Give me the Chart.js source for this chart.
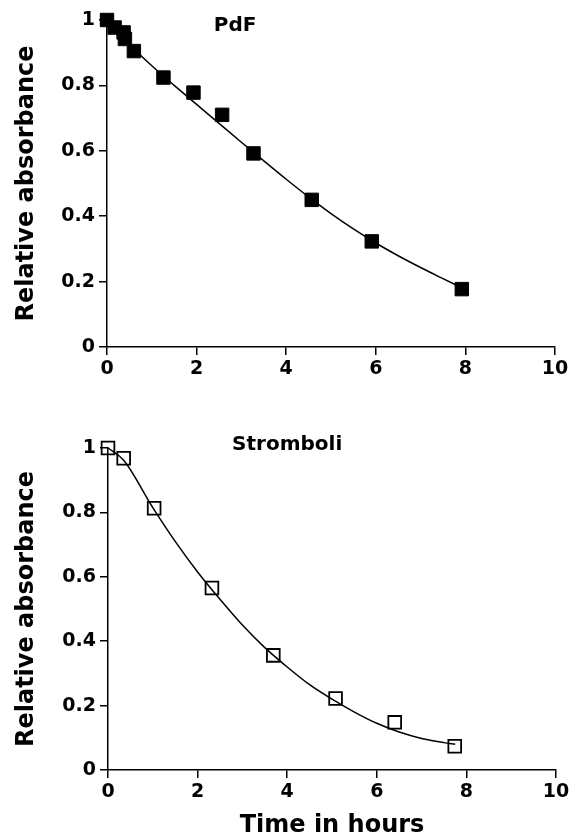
<!DOCTYPE html>
<html><head><meta charset="utf-8">
<script src="https://cdn.jsdelivr.net/npm/chart.js@4.4.1/dist/chart.umd.min.js"></script>
<style>
html,body{margin:0;padding:0;background:#fff;}
#wrap{position:relative;width:579px;height:837px;background:#fff;}
canvas{display:block;position:absolute;left:0;}
#c1{top:0;} #c2{top:400px;}
</style></head><body>
<div id="wrap"><canvas id="c1" width="579" height="400"></canvas><canvas id="c2" width="579" height="437"></canvas></div>
<script>
// ---- data ----
const xTicks = [0, 2, 4, 6, 8, 10];
const yTicks = [0, 0.2, 0.4, 0.6, 0.8, 1];
const pdfTitle = 'PdF';
const stromTitle = 'Stromboli';
const yAxisTitle = 'Relative absorbance';
const xAxisTitle = 'Time in hours';

const pdfX = [0, 0.17, 0.37, 0.4, 0.6, 1.26, 1.93, 2.57, 3.27, 4.57, 5.91, 7.92];
const pdfY = [1.0, 0.977, 0.962, 0.942, 0.905, 0.824, 0.778, 0.71, 0.592, 0.45, 0.323, 0.177];
const pdfFitX = [0, 0.5, 1, 1.5, 2, 2.5, 3, 3.5, 4, 4.5, 5, 5.5, 6, 6.5, 7, 7.5, 7.92];
const pdfFitY = [1.0, 0.925, 0.86, 0.80, 0.742, 0.684, 0.626, 0.569, 0.513, 0.459, 0.408, 0.361, 0.318, 0.279, 0.243, 0.209, 0.181];

const strX = [0, 0.35, 1.03, 2.32, 3.69, 5.08, 6.40, 7.74];
const strY = [1.0, 0.968, 0.813, 0.565, 0.356, 0.222, 0.148, 0.074];
const strFitX = [0, 0.35, 1, 1.5, 2, 2.5, 3, 3.5, 4, 4.5, 5, 5.5, 6, 6.5, 7, 7.5, 7.75];
const strFitY = [1.0, 0.962, 0.815, 0.71, 0.615, 0.53, 0.45, 0.38, 0.32, 0.265, 0.22, 0.18, 0.145, 0.118, 0.098, 0.085, 0.08];

// ---- helpers ----
const FONT = '"DejaVu Sans", sans-serif';
const pts = (xs, ys) => xs.map((x, i) => ({x, y: ys[i]}));

const panelTitle = {
  id: 'panelTitle',
  afterDraw(chart, args, opts) {
    const {ctx, scales: {x, y}} = chart;
    ctx.save();
    ctx.font = 'bold 20px ' + FONT;
    ctx.fillStyle = '#000';
    ctx.textAlign = 'center';
    ctx.textBaseline = 'middle';
    ctx.fillText(opts.text, x.getPixelForValue(opts.x), y.getPixelForValue(opts.y));
    ctx.restore();
  }
};

function makeChart(id, cfg) {
  const axisGrid = {display: true, drawOnChartArea: false, drawTicks: true, tickLength: 8,
                    tickWidth: 1.5, tickColor: '#000', color: '#000', lineWidth: 1.5};
  const border = {display: true, color: '#000', width: 1.5};
  return new Chart(document.getElementById(id), {
    type: 'line',
    data: {
      datasets: [
        {data: pts(cfg.fitX, cfg.fitY), borderColor: '#000', borderWidth: 1.5, pointRadius: 0,
         cubicInterpolationMode: 'monotone', fill: false, clip: false, order: 2},
        {data: pts(cfg.xs, cfg.ys), showLine: false, pointStyle: 'rect', pointRadius: cfg.r,
         pointBackgroundColor: cfg.filled ? '#000' : 'rgba(0,0,0,0)', pointBorderColor: '#000',
         pointBorderWidth: cfg.filled ? 1 : 1.8, clip: false, order: 1}
      ]
    },
    options: {
      responsive: false, animation: false, devicePixelRatio: 1,
      layout: {padding: {top: cfg.padTop, right: cfg.padRight, left: 0, bottom: 0}},
      plugins: {legend: {display: false}, tooltip: {enabled: false},
                panelTitle: {text: cfg.title, x: cfg.titleX, y: cfg.titleY}},
      scales: {
        x: {type: 'linear', position: 'bottom', min: 0, max: 10,
            afterBuildTicks: s => { s.ticks = xTicks.map(v => ({value: v})); },
            afterFit: s => { s.height = cfg.xHeight; },
            grid: axisGrid, border: border,
            ticks: {color: '#000', padding: 3, font: {family: FONT, weight: 'bold', size: 19},
                    callback: v => String(v), maxRotation: 0},
            title: {display: !!cfg.xTitle, text: cfg.xTitle || '', color: '#000',
                    font: {family: FONT, weight: 'bold', size: 24}, padding: {top: 0, bottom: -3}}},
        y: {type: 'linear', position: 'left', min: 0, max: 1,
            afterBuildTicks: s => { s.ticks = yTicks.map(v => ({value: v})); },
            afterFit: s => { s.width = cfg.yWidth; },
            grid: axisGrid, border: border,
            ticks: {color: '#000', padding: 4, font: {family: FONT, weight: 'bold', size: 19},
                    callback: v => String(v)},
            title: {display: true, text: yAxisTitle, color: '#000',
                    font: {family: FONT, weight: 'bold', size: 24}, padding: {top: 12, bottom: 0}}}
      }
    },
    plugins: [panelTitle]
  });
}

makeChart('c1', {xs: pdfX, ys: pdfY, fitX: pdfFitX, fitY: pdfFitY, filled: true, r: 9.5,
  title: pdfTitle, titleX: 2.86, titleY: 0.982, padTop: 20, padRight: 24, xHeight: 53, yWidth: 107});
makeChart('c2', {xs: strX, ys: strY, fitX: strFitX, fitY: strFitY, filled: false, r: 9,
  title: stromTitle, titleX: 4.0, titleY: 1.009, padTop: 48, padRight: 23, xHeight: 67, yWidth: 108,
  xTitle: xAxisTitle});
</script>
</body></html>
